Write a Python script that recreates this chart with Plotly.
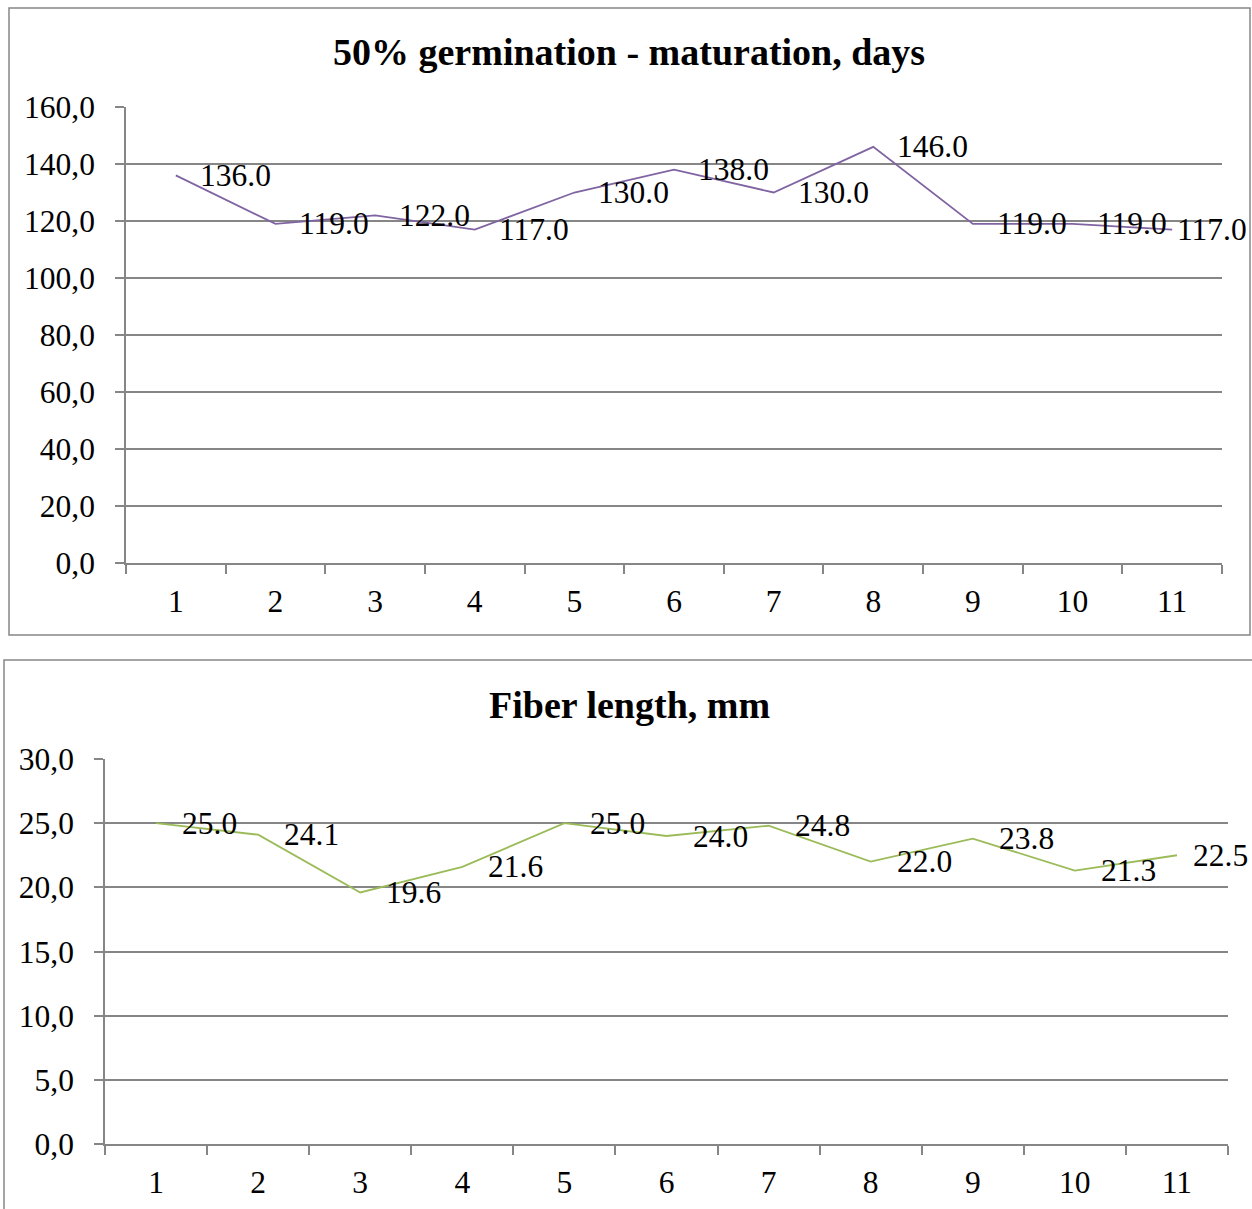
import plotly.graph_objects as go

categories = ["1", "2", "3", "4", "5", "6", "7", "8", "9", "10", "11"]
germination_days = [136.0, 119.0, 122.0, 117.0, 130.0, 138.0, 130.0, 146.0, 119.0, 119.0, 117.0]
fiber_length_mm = [25.0, 24.1, 19.6, 21.6, 25.0, 24.0, 24.8, 22.0, 23.8, 21.3, 22.5]

top_title = "50% germination - maturation, days"
bottom_title = "Fiber length, mm"
top_ticks = [0, 20, 40, 60, 80, 100, 120, 140, 160]
top_ticktext = ["0,0", "20,0", "40,0", "60,0", "80,0", "100,0", "120,0", "140,0", "160,0"]
bottom_ticks = [0, 5, 10, 15, 20, 25, 30]
bottom_ticktext = ["0,0", "5,0", "10,0", "15,0", "20,0", "25,0", "30,0"]

W, H = 1252, 1209
FONT = "Liberation Serif"
GRAY = "#868686"
FS = 31.5

def px(x):
    return x / W

def py(y):
    return 1 - y / H

fig = go.Figure()
fig.add_trace(go.Scatter(x=categories, y=germination_days, mode="lines",
                         line=dict(color="#8064A2", width=1.8), xaxis="x", yaxis="y",
                         showlegend=False, hoverinfo="skip"))
fig.add_trace(go.Scatter(x=categories, y=fiber_length_mm, mode="lines",
                         line=dict(color="#9BBB59", width=1.8), xaxis="x2", yaxis="y2",
                         showlegend=False, hoverinfo="skip"))

annotations = []
n = len(categories)
for i, v in enumerate(germination_days):
    annotations.append(dict(x=i, y=v, xref="x", yref="y", text=f"{v:.1f}", showarrow=False,
                            xanchor="left", yanchor="middle",
                            xshift=3 if i == n - 1 else 22,
                            font=dict(family=FONT, size=FS, color="black")))
for i, v in enumerate(fiber_length_mm):
    annotations.append(dict(x=i, y=v, xref="x2", yref="y2", text=f"{v:.1f}", showarrow=False,
                            xanchor="left", yanchor="middle",
                            xshift=14 if i == n - 1 else 24,
                            font=dict(family=FONT, size=FS, color="black")))

annotations.append(dict(x=0.5025, y=py(52), xref="paper", yref="paper", text=f"<b>{top_title}</b>",
                        showarrow=False, xanchor="center", yanchor="middle",
                        font=dict(family=FONT, size=38, color="black")))
annotations.append(dict(x=0.5025, y=py(705), xref="paper", yref="paper", text=f"<b>{bottom_title}</b>",
                        showarrow=False, xanchor="center", yanchor="middle",
                        font=dict(family=FONT, size=38, color="black")))

shapes = [
    dict(type="rect", xref="paper", yref="paper", x0=px(9), x1=px(1250), y0=py(635), y1=py(8),
         line=dict(color=GRAY, width=1.5), fillcolor="rgba(0,0,0,0)"),
    dict(type="rect", xref="paper", yref="paper", x0=px(4), x1=px(1256), y0=py(1215), y1=py(660),
         line=dict(color=GRAY, width=1.5), fillcolor="rgba(0,0,0,0)"),
]

xcommon = dict(type="category", tickson="boundaries", ticks="outside", ticklen=9, tickcolor=GRAY,
               tickwidth=1.5, showline=True, linecolor=GRAY, linewidth=1.5, showgrid=False,
               tickfont=dict(family=FONT, size=FS, color="black"), ticklabelstandoff=9,
               range=[-0.5, 10.5], fixedrange=True, automargin=False)
ycommon = dict(ticks="outside", ticklen=9, tickcolor=GRAY, tickwidth=1.5, showline=True,
               linecolor=GRAY, linewidth=1.5, showgrid=True, gridcolor=GRAY, gridwidth=1.5,
               zeroline=False, tickfont=dict(family=FONT, size=FS, color="black"),
               ticklabelstandoff=14, fixedrange=True, automargin=False)

fig.update_layout(
    width=W, height=H, margin=dict(l=0, r=0, t=0, b=0, pad=0, autoexpand=False),
    paper_bgcolor="white", plot_bgcolor="white", showlegend=False,
    xaxis=dict(xcommon, domain=[px(126), px(1222)], anchor="y"),
    yaxis=dict(ycommon, domain=[py(563), py(107)], range=[0, 160], tickvals=top_ticks,
               ticktext=top_ticktext, anchor="x"),
    xaxis2=dict(xcommon, domain=[px(105), px(1228)], anchor="y2"),
    yaxis2=dict(ycommon, domain=[py(1144), py(759)], range=[0, 30], tickvals=bottom_ticks,
                ticktext=bottom_ticktext, anchor="x2"),
    annotations=annotations, shapes=shapes,
)

fig.write_html("out.html", config={"displayModeBar": False},
               post_script="document.body.style.margin='0';document.body.style.padding='0';")
